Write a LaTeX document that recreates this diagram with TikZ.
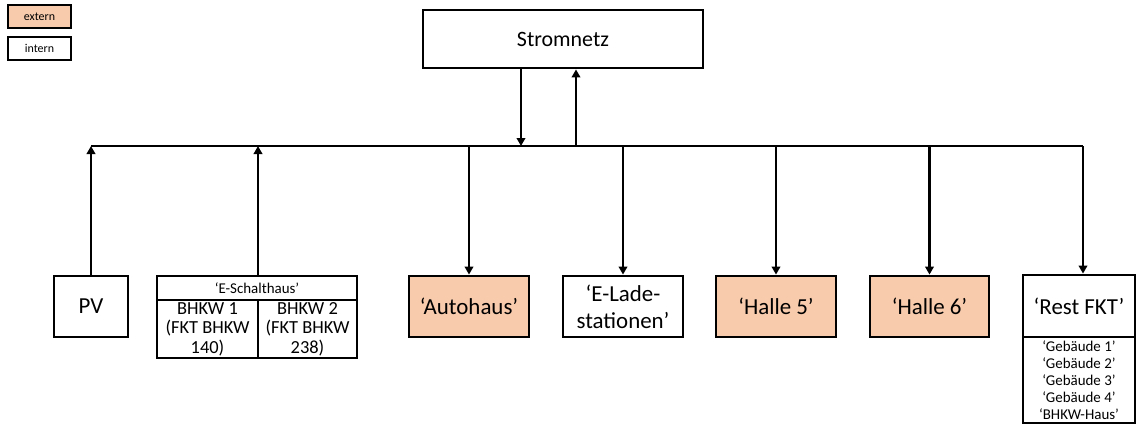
\documentclass[tikz,border=0pt]{standalone}
\usepackage{fontspec}
\setmainfont{Carlito}
\usetikzlibrary{arrows.meta}
\definecolor{ext}{RGB}{248,203,173}
\tikzset{
  bx/.style={draw, line width=2.8bp, inner sep=0pt, align=center, anchor=center},
  lg/.style={draw, line width=2.8bp, inner sep=0pt, align=center, anchor=center, font=\fontsize{12}{13}\selectfont, minimum width=63bp, minimum height=23bp},
  big/.style={font=\fontsize{23}{27}\selectfont},
  conn/.style={line width=2.8bp},
  arr/.style={line width=2.6bp, -{Triangle[length=8bp,width=8.5bp]}},
}
\begin{document}
\begin{tikzpicture}[x=1bp,y=-1bp]
\useasboundingbox (0,0) rectangle (1138,425);
% legend
\node[lg, fill=ext] (lext) at (39.5,16.5) {extern};
\node[lg] (lint) at (39.5,48.5) {intern};
% grid
\node[bx, minimum width=280bp, minimum height=58bp, font=\fontsize{22}{26}\selectfont] (strom) at (563,39) {Stromnetz};
\coordinate (busL) at (91,146);
\coordinate (busR) at (1083,146);
\draw[conn] (busL) -- (busR);
% boxes
\node[bx, big, minimum width=74bp, minimum height=61bp] (pv) at (91,306.5) {PV};
\node[bx, big, fill=ext, minimum width=120bp, minimum height=61bp] (auto) at (469,306.5) {‘Autohaus’};
\node[bx, big, minimum width=120bp, minimum height=61bp] (lade) at (623,306.5) {‘E-Lade-\\stationen’};
\node[bx, big, fill=ext, minimum width=120bp, minimum height=61bp] (h5) at (776,306.5) {‘Halle 5’};
\node[bx, big, fill=ext, minimum width=119bp, minimum height=61bp] (h6) at (929.5,306.5) {‘Halle 6’};
\node[bx, big, minimum width=112bp, minimum height=62bp] (rest) at (1079,306) {‘Rest FKT’};
\node[bx, minimum width=112bp, minimum height=86bp, font=\fontsize{15}{17}\selectfont] (restl) at (1079,380) {‘Gebäude 1’\\‘Gebäude 2’\\‘Gebäude 3’\\‘Gebäude 4’\\‘BHKW-Haus’};
% E-Schalthaus
\node[bx, minimum width=200bp, minimum height=24bp, font=\fontsize{15}{17}\selectfont] (schalt) at (257,288) {‘E-Schalthaus’};
\node[bx, minimum width=101bp, minimum height=58bp, font=\fontsize{18.5}{19.5}\selectfont] (b1) at (207.5,329) {BHKW 1\\(FKT BHKW\\140)};
\node[bx, minimum width=99bp, minimum height=58bp, font=\fontsize{18.5}{19.5}\selectfont] (b2) at (307.5,329) {BHKW 2\\(FKT BHKW\\238)};
% connectors
\draw[arr] ([xshift=-42bp]strom.south) -- ([xshift=-42bp]strom.south |- busL);
\draw[arr] ([xshift=13bp]strom.south |- busL) -- ([xshift=13bp]strom.south);
\draw[arr] (pv.north) -- (pv.north |- busL);
\draw[arr] ([xshift=1bp]schalt.north) -- ([xshift=1bp]schalt.north |- busL);
\draw[arr] (auto.north |- busL) -- (auto.north);
\draw[arr] (lade.north |- busL) -- (lade.north);
\draw[arr] (h5.north |- busL) -- (h5.north);
\draw[arr] (h6.north |- busL) -- (h6.north);
\draw[arr] (busR) -- (busR |- rest.north);
\end{tikzpicture}
\end{document}
